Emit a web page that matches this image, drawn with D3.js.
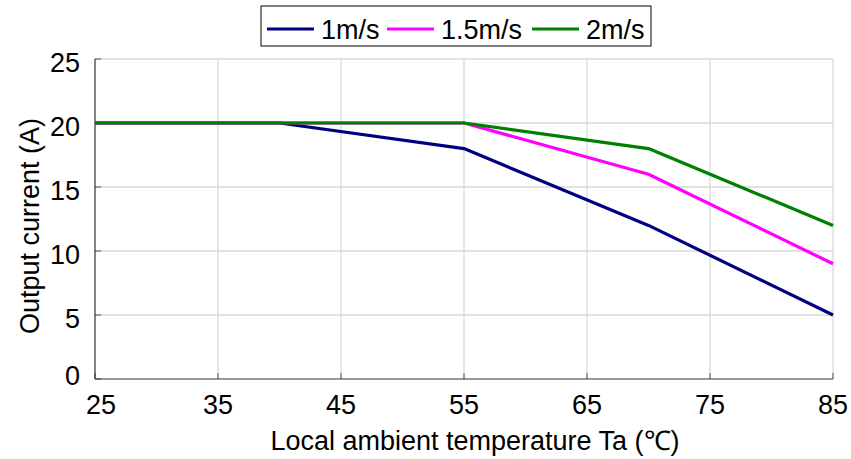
<!DOCTYPE html>
<html lang="en">
<head>
<meta charset="UTF-8">
<title>Output current derating</title>
<script src="https://cdn.jsdelivr.net/npm/d3@7"></script>
<style>
  body { margin: 0; background: #fff; }
  svg text { font-family: "Liberation Sans", Arial, sans-serif; fill: #000; }
</style>
</head>
<body>
<div id="chart"></div>
<script>
// data
var temps = [25, 40, 55, 70, 85];
var speeds = ["1m/s", "1.5m/s", "2m/s"];
var current1 = [20, 20, 18, 12, 5];
var current15 = [20, 20, 20, 16, 9];
var current2 = [20, 20, 20, 18, 12];
var xTicks = [25, 35, 45, 55, 65, 75, 85];
var yTicks = [0, 5, 10, 15, 20, 25];

var colors = ["#000080", "#ff00ff", "#008000"];
var seriesVals = [current1, current15, current2];

var width = 851, height = 459;
var pLeft = 95, pRight = 833, pTop = 59, pBottom = 379;
var fs = 27;

var svg = d3.select("#chart").append("svg")
    .attr("width", width)
    .attr("height", height);

var x = d3.scaleLinear().domain([25, 85]).range([pLeft, pRight]);
var y = d3.scaleLinear().domain([0, 25]).range([pBottom, pTop]);

// grid
svg.append("g").selectAll("line")
    .data(xTicks.slice(1))
    .enter().append("line")
    .attr("x1", function(d) { return x(d); })
    .attr("x2", function(d) { return x(d); })
    .attr("y1", pTop).attr("y2", pBottom)
    .attr("stroke", "#d9d9d9").attr("stroke-width", 1.3);

svg.append("g").selectAll("line")
    .data(yTicks.slice(1))
    .enter().append("line")
    .attr("y1", function(d) { return y(d); })
    .attr("y2", function(d) { return y(d); })
    .attr("x1", pLeft).attr("x2", pRight)
    .attr("stroke", "#d9d9d9").attr("stroke-width", 1.3);

// inner tick marks
svg.append("g").selectAll("line")
    .data(xTicks)
    .enter().append("line")
    .attr("x1", function(d) { return x(d); })
    .attr("x2", function(d) { return x(d); })
    .attr("y1", pBottom).attr("y2", pBottom - 6)
    .attr("stroke", "#555");

svg.append("g").selectAll("line")
    .data(yTicks)
    .enter().append("line")
    .attr("y1", function(d) { return y(d); })
    .attr("y2", function(d) { return y(d); })
    .attr("x1", pLeft).attr("x2", pLeft + 6)
    .attr("stroke", "#555");

// axis lines
svg.append("line").attr("x1", pLeft).attr("x2", pLeft)
    .attr("y1", pTop).attr("y2", pBottom)
    .attr("stroke", "#333").attr("stroke-width", 1.2);
svg.append("line").attr("x1", pLeft).attr("x2", pRight)
    .attr("y1", pBottom).attr("y2", pBottom)
    .attr("stroke", "#333").attr("stroke-width", 1.2);

// tick labels
svg.append("g").selectAll("text")
    .data(xTicks)
    .enter().append("text")
    .attr("x", function(d, i) { return x(d) + (i == 0 ? 6 : 0); })
    .attr("y", 414)
    .attr("text-anchor", "middle")
    .style("font-size", fs + "px")
    .text(function(d) { return d; });

svg.append("g").selectAll("text")
    .data(yTicks)
    .enter().append("text")
    .attr("x", 80)
    .attr("y", function(d) { return y(d) + (d == 0 ? -4 : 3) + 9.5; })
    .attr("text-anchor", "end")
    .style("font-size", fs + "px")
    .text(function(d) { return d; });

// axis titles
svg.append("text")
    .attr("x", (263 + 687) / 2)
    .attr("y", 450)
    .attr("text-anchor", "middle")
    .style("font-size", fs + "px")
    .text("Local ambient temperature Ta (\u2103)");

svg.append("text")
    .attr("transform", "translate(39,226) rotate(-90)")
    .attr("text-anchor", "middle")
    .style("font-size", fs + "px")
    .text("Output current (A)");

// lines
var line = d3.line()
    .x(function(d, i) { return x(temps[i]); })
    .y(function(d) { return y(d); });

svg.append("g").selectAll("path")
    .data(seriesVals)
    .enter().append("path")
    .attr("d", line)
    .attr("fill", "none")
    .attr("stroke", function(d, i) { return colors[i]; })
    .attr("stroke-width", 3.2)
    .attr("stroke-linejoin", "round");

// legend
var legend = svg.append("g");
legend.append("rect")
    .attr("x", 261).attr("y", 6)
    .attr("width", 390).attr("height", 40)
    .attr("fill", "#fff")
    .attr("stroke", "#000").attr("stroke-width", 1);

var legX = [267, 387, 532];
var items = legend.selectAll("g.item")
    .data(speeds)
    .enter().append("g")
    .attr("class", "item")
    .attr("transform", function(d, i) { return "translate(" + legX[i] + ",29)"; });

items.append("line")
    .attr("x1", 0).attr("x2", 47)
    .attr("stroke", function(d, i) { return colors[i]; })
    .attr("stroke-width", 3.2);

items.append("text")
    .attr("x", 54)
    .attr("y", 9.5)
    .style("font-size", fs + "px")
    .text(function(d) { return d; });
</script>
</body>
</html>
